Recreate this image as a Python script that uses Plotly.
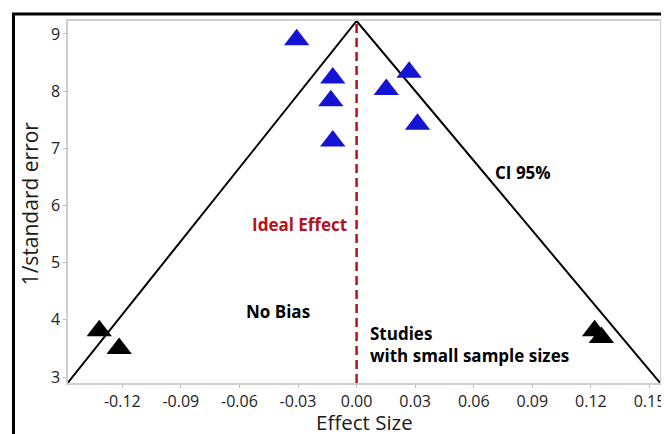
import plotly.graph_objects as go

# Data
blue_x = [-0.0307, -0.0122, -0.0132, -0.0122, 0.0269, 0.0152, 0.0312]
blue_y = [8.90, 8.23, 7.83, 7.13, 8.33, 8.03, 7.42]
black_x = [-0.1318, -0.1216, 0.1219, 0.1254]
black_y = [3.81, 3.50, 3.81, 3.69]

funnel_x = [-0.148, 0.0, 0.1555]
funnel_y = [2.895, 9.227, 2.895]
ideal_x = [0.0, 0.0]
ideal_y = [2.895, 9.227]

x_ticks = [-0.12, -0.09, -0.06, -0.03, 0.0, 0.03, 0.06, 0.09, 0.12, 0.15]
x_ticktext = ["-0.12", "-0.09", "-0.06", "-0.03", "0.00", "0.03", "0.06", "0.09", "0.12", "0.15"]
y_ticks = [3, 4, 5, 6, 7, 8, 9]

FONT = "Open Sans"

fig = go.Figure()
fig.add_trace(go.Scatter(x=funnel_x, y=funnel_y, mode="lines",
                         line=dict(color="black", width=2), hoverinfo="skip"))
fig.add_trace(go.Scatter(x=ideal_x, y=ideal_y, mode="lines",
                         line=dict(color="#b3141c", width=2.5, dash="9px,5px"), hoverinfo="skip"))
fig.add_trace(go.Scatter(x=blue_x, y=blue_y, mode="markers",
                         marker=dict(symbol="triangle-up", size=22, color="#1414d2",
                                     line=dict(width=0)), cliponaxis=False))
fig.add_trace(go.Scatter(x=black_x, y=black_y, mode="markers",
                         marker=dict(symbol="triangle-up", size=22, color="black",
                                     line=dict(width=0)), cliponaxis=False))

ann_font = dict(family=FONT, size=17, color="black")
annotations = [
    dict(x=-0.0041, y=5.66, xref="x", yref="y", text="<b>Ideal Effect</b>", showarrow=False,
         xanchor="right", yanchor="middle", font=dict(family=FONT, size=17, color="#b3141c")),
    dict(x=0.0701, y=6.57, xref="x", yref="y", text="<b>CI 95%</b>", showarrow=False,
         xanchor="left", yanchor="middle", font=ann_font),
    dict(x=-0.0579, y=4.14, xref="x", yref="y", text="<b>No Bias</b>", showarrow=False,
         xanchor="left", yanchor="middle", font=ann_font),
    dict(x=0.0061, y=3.56, xref="x", yref="y", text="<b>Studies<br>with small sample sizes</b>",
         showarrow=False, xanchor="left", yanchor="middle", align="left", font=ann_font),
    dict(x=0.5008, y=-0.1077, xref="paper", yref="paper", text="Effect Size", showarrow=False,
         xanchor="center", yanchor="middle", font=dict(family=FONT, size=20.5, color="#1a1a1a")),
    dict(x=-0.0637, y=0.497, xref="paper", yref="paper", text="1/standard error", showarrow=False,
         textangle=-90, xanchor="center", yanchor="middle", font=dict(family=FONT, size=21, color="#1a1a1a")),
]

# The page body has an 8px margin, so the figure is drawn 8px smaller and offset.
fig.update_layout(
    width=661, height=426,
    margin=dict(l=60, r=4, t=13, b=51),
    paper_bgcolor="white", plot_bgcolor="white",
    showlegend=False,
    annotations=annotations,
    shapes=[dict(type="rect", xref="paper", yref="paper",
                 x0=-0.0921, x1=1.05, y0=-0.3, y1=1.0193,
                 line=dict(color="black", width=3), layer="above")],
    xaxis=dict(range=[-0.1478, 0.1554], tickvals=x_ticks, ticktext=x_ticktext,
               showgrid=False, zeroline=False, showline=True, linecolor="#cfcfcf",
               linewidth=1.5, mirror=True, ticks="outside", ticklen=3, tickcolor="#bbbbbb",
               tickfont=dict(family=FONT, size=16, color="#222")),
    yaxis=dict(range=[2.895, 9.227], tickvals=y_ticks,
               showgrid=False, zeroline=False, showline=True, linecolor="#cfcfcf",
               linewidth=1.5, mirror=True, ticks="outside", ticklen=3, tickcolor="#bbbbbb",
               tickfont=dict(family=FONT, size=16, color="#222")),
)

fig.write_html("out.html")
